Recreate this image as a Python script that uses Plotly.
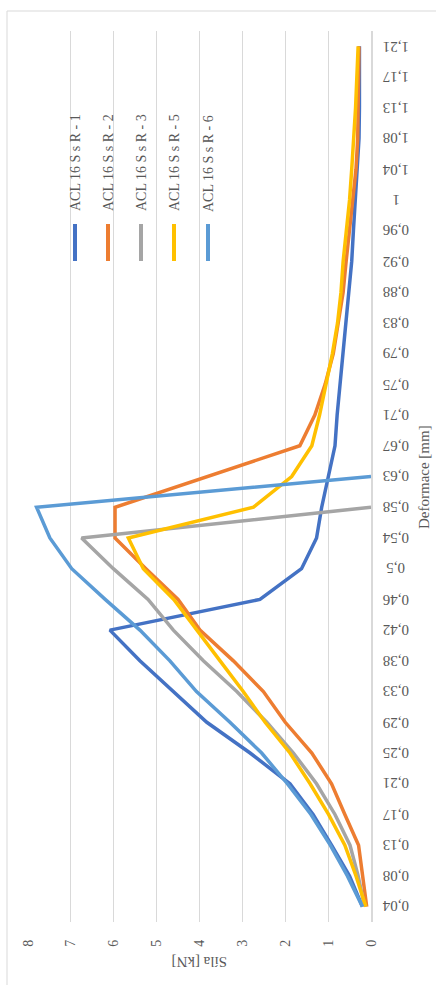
import plotly.graph_objects as go

# Deformation steps (category axis) and measured force per specimen
deformace = ["0,04", "0,08", "0,13", "0,17", "0,21", "0,25", "0,29", "0,33", "0,38",
             "0,42", "0,46", "0,5", "0,54", "0,58", "0,63", "0,67", "0,71", "0,75",
             "0,79", "0,83", "0,88", "0,92", "0,96", "1", "1,04", "1,08", "1,13",
             "1,17", "1,21"]

sila_r1 = [0.20, 0.50, 0.92, 1.35, 1.89, 2.82, 3.83, 4.61, 5.39, 6.09, 2.59, 1.62,
           1.27, 1.15, 1.00, 0.84, 0.79, 0.72, 0.65, 0.57, 0.50, 0.45, 0.41, 0.37,
           0.33, 0.28, 0.27, 0.27, 0.27]
sila_r2 = [0.10, 0.19, 0.29, 0.61, 0.92, 1.38, 2.00, 2.51, 3.21, 3.99, 4.50, 5.25,
           5.97, 5.97, 3.83, 1.66, 1.31, 1.07, 0.88, 0.76, 0.65, 0.58, 0.50, 0.42,
           0.35, 0.31, 0.30, 0.29, 0.28]
sila_r3 = [0.15, 0.30, 0.49, 0.84, 1.27, 1.81, 2.43, 3.13, 3.91, 4.61, 5.20, 6.01,
           6.75, 0.0] + [None] * 15
sila_r5 = [0.12, 0.35, 0.61, 0.99, 1.42, 1.89, 2.47, 2.98, 3.52, 4.07, 4.60, 5.31,
           5.66, 2.74, 1.85, 1.38, 1.20, 1.05, 0.90, 0.78, 0.70, 0.65, 0.57, 0.50,
           0.45, 0.40, 0.36, 0.33, 0.30]
sila_r6 = [0.20, 0.55, 0.95, 1.40, 1.95, 2.55, 3.29, 4.07, 4.69, 5.39, 6.20, 6.98,
           7.49, 7.80, 0.0] + [None] * 14

series_names = ["ACL 16 S s R - 1", "ACL 16 S s R - 2", "ACL 16 S s R - 3",
                "ACL 16 S s R - 5", "ACL 16 S s R - 6"]
series_values = [sila_r1, sila_r2, sila_r3, sila_r5, sila_r6]
series_colors = ["#4472C4", "#ED7D31", "#A5A5A5", "#FFC000", "#5B9BD5"]

force_ticks = list(range(0, 9))

W, H = 436, 985
L, R, T, B = 28, 65, 31, 63
PW, PH = W - L - R, H - T - B


def px(x):
    return (x - L) / PW


def py(y):
    return (H - B - y) / PH


TEXT = "#595959"
GRID = "#D9D9D9"
SERIF = "Liberation Serif, Times New Roman, serif"

fig = go.Figure()
for name, vals, col in zip(series_names, series_values, series_colors):
    fig.add_trace(go.Scatter(
        x=vals, y=deformace, mode="lines", name=name,
        line=dict(color=col, width=3.5), connectgaps=False,
        showlegend=False,
    ))

shapes = [
    # outer chart frame
    dict(type="rect", xref="paper", yref="paper",
         x0=px(7), x1=px(W + 20), y0=py(H + 20), y1=py(11),
         line=dict(color=GRID, width=1), fillcolor="rgba(0,0,0,0)", layer="below"),
]
annotations = []

# category labels, turned upside down next to the axis
# (positioned by category index so that "1" is not read as an index)
for idx, cat in enumerate(deformace):
    annotations.append(dict(text=cat, xref="paper", yref="y", x=px(396), y=idx,
                            textangle=180, showarrow=False,
                            xanchor="center", yanchor="middle",
                            font=dict(family=SERIF, size=15, color=TEXT)))

# legend drawn as rotated entries
legend_x = [75, 108, 141, 174, 208]
for name, col, lx in zip(series_names, series_colors, legend_x):
    shapes.append(dict(type="line", xref="paper", yref="paper",
                       x0=px(lx), x1=px(lx), y0=py(224), y1=py(261),
                       line=dict(color=col, width=4)))
    annotations.append(dict(text=name, xref="paper", yref="paper",
                            x=px(lx), y=py(163), textangle=-90, showarrow=False,
                            xanchor="center", yanchor="middle",
                            font=dict(family=SERIF, size=14, color=TEXT)))

annotations.append(dict(text="Síla [kN]", xref="paper", yref="paper",
                        x=px(200), y=py(962), textangle=180, showarrow=False,
                        xanchor="center", yanchor="middle",
                        font=dict(family=SERIF, size=15, color=TEXT)))
annotations.append(dict(text="Deformace [mm]", xref="paper", yref="paper",
                        x=px(424), y=py(477), textangle=-90, showarrow=False,
                        xanchor="center", yanchor="middle",
                        font=dict(family=SERIF, size=15, color=TEXT)))

fig.update_layout(
    width=W, height=H,
    margin=dict(l=L, r=R, t=T, b=B, pad=0),
    paper_bgcolor="white", plot_bgcolor="white",
    showlegend=False,
    shapes=shapes, annotations=annotations,
    xaxis=dict(range=[8, 0], tickvals=force_ticks, ticktext=[str(v) for v in force_ticks],
               showgrid=True, gridcolor=GRID, gridwidth=1, zeroline=False,
               showline=False, tickangle=-90, ticks="", ticklabelstandoff=14,
               tickfont=dict(family=SERIF, size=14, color=TEXT)),
    yaxis=dict(type="category", categoryarray=deformace, categoryorder="array",
               range=[-0.5, len(deformace) - 0.5], side="right",
               showgrid=False, zeroline=False, showline=True, linecolor=GRID,
               linewidth=1.5, showticklabels=False, ticks=""),
)

fig.write_html("out.html")
